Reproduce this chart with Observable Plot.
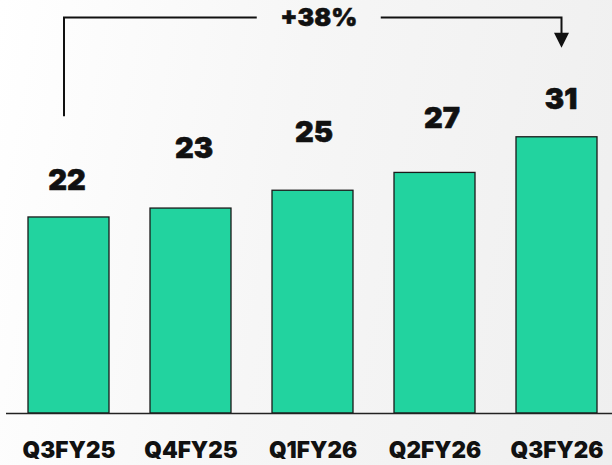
<!DOCTYPE html>
<html>
<head>
<meta charset="utf-8">
<script src="https://cdn.jsdelivr.net/npm/d3@7"></script>
<script src="https://cdn.jsdelivr.net/npm/@observablehq/plot@0.6"></script>
<style>
  html, body { margin: 0; padding: 0; }
  body {
    width: 612px; height: 465px; overflow: hidden;
    background: linear-gradient(100deg, #ffffff 0%, #f6f6f6 45%, #efefef 100%);
    font-family: Inter, "DejaVu Sans", sans-serif;
  }
  svg { display: block; }
</style>
</head>
<body>
<div id="chart"></div>
<script>
// ---- data ----
const categories = ["Q3FY25", "Q4FY25", "Q1FY26", "Q2FY26", "Q3FY26"];
const values = [22, 23, 25, 27, 31];
const growthLabel = "+38%";
// annotation levels (in value units)
const bracketTop = 44.4;
const bracketStart = 33.3;
const arrowTip = 41.0;

// ---- layout / style ----
const labelLift = [37, 60, 58, 54, 38];
const labelShift = [-2, 3, 1, 7, 4];
const FONT = "Inter, 'DejaVu Sans', sans-serif";

const rows = categories.map((c, i) => ({cat: c, val: values[i], i}));

const chart = Plot.plot({
  width: 612,
  height: 465,
  marginLeft: 0,
  marginRight: 0,
  marginTop: 0,
  marginBottom: 52,
  style: {background: "transparent", fontFamily: FONT, color: "#111"},
  x: {domain: categories, range: [27, 597], paddingInner: 0.337, paddingOuter: 0, label: null},
  y: {domain: [0, 46.35], range: [413, 0], axis: null},
  marks: [
    Plot.barY(rows, {x: "cat", y: "val", fill: "#22d39f", stroke: "#1a1a1a", strokeWidth: 1.3}),
    Plot.ruleY([0], {stroke: "#222", strokeWidth: 1.6, insetLeft: 6}),
    ...rows.map(r => Plot.text([r], {
      x: "cat", y: "val", text: d => String(d.val),
      dy: -labelLift[r.i], dx: labelShift[r.i],
      fontSize: 29, fontWeight: 900, fill: "#111",
      stroke: "#111", strokeWidth: 0.6
    })),
    Plot.axisX({tickSize: 0, tickPadding: 29, fontSize: 22.5, fontWeight: 900, fill: "#111",
      stroke: "#111", strokeWidth: 0.5, label: null})
  ]
});
document.getElementById("chart").appendChild(chart);

// ---- growth bracket annotation, positioned through the plot's scales ----
const sx = chart.scale("x"), sy = chart.scale("y");
const cx = c => sx.apply(c) + sx.bandwidth / 2;
const xL = cx(categories[0]) - 4.5;
const xR = cx(categories[categories.length - 1]) + 5;
const xMid = (xL + xR) / 2 + 6;
const yTop = sy.apply(bracketTop);
const yStart = sy.apply(bracketStart);
const yTip = sy.apply(arrowTip);
const headH = 15, headW = 15, gap = 62;

const g = d3.select(chart).append("g")
  .attr("fill", "none").attr("stroke", "#111").attr("stroke-width", 2);
g.append("path").attr("d", `M${xL},${yStart}V${yTop}H${xMid - gap}`);
g.append("path").attr("d", `M${xMid + gap},${yTop}H${xR}V${yTip - headH + 1}`);
d3.select(chart).append("path")
  .attr("d", `M${xR - headW / 2},${yTip - headH}L${xR + headW / 2},${yTip - headH}L${xR},${yTip}Z`)
  .attr("fill", "#111");
d3.select(chart).append("text")
  .attr("x", xMid).attr("y", yTop).attr("dy", "0.35em")
  .attr("text-anchor", "middle")
  .attr("font-family", FONT).attr("font-size", 25).attr("font-weight", 900)
  .attr("fill", "#111").attr("stroke", "#111").attr("stroke-width", 0.5)
  .text(growthLabel);
</script>
</body>
</html>
